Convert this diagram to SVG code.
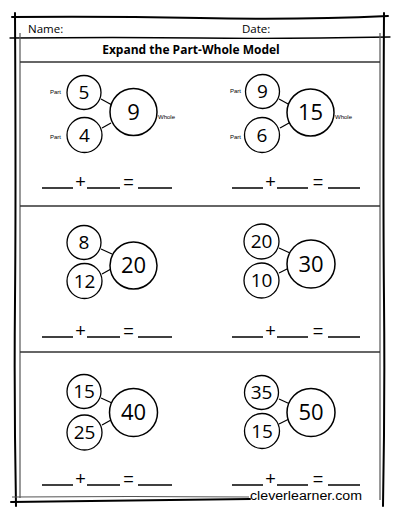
<svg xmlns="http://www.w3.org/2000/svg" width="400" height="518" viewBox="0 0 400 518">
<style>
.frame{fill:none;stroke:#000;stroke-width:2;stroke-linecap:round}
.inner{fill:none;stroke:#555;stroke-width:1.2}
.div{fill:none;stroke:#333;stroke-width:1.6}
.part{fill:#fff;stroke:#000;stroke-width:1.3}
.whole{fill:#fff;stroke:#000;stroke-width:1.5}
.num{font-family:"Open Sans","Liberation Sans",sans-serif;font-weight:normal;fill:#000;text-anchor:middle}
.pn{font-size:19px}
.wn{font-size:22px}
.lbl{font-family:"Liberation Sans",Arial,sans-serif;font-size:6px;fill:#000}
.hdr{font-family:"Open Sans","Liberation Sans",sans-serif;font-size:11.5px;fill:#000}
.ttl{font-family:"Open Sans","Liberation Sans",sans-serif;font-size:12px;font-weight:bold;fill:#000;text-anchor:middle}
.blank{stroke:#000;stroke-width:1.5}
.op{font-family:"Liberation Sans",Arial,sans-serif;font-size:18px;fill:#000;text-anchor:middle}
.conn line{stroke:#000;stroke-width:1.2}
</style>

<g id="frame">
  <path class="frame" d="M12 17 Q100 16 200 18 T388 16"/>
  <path class="frame" d="M15 13 Q16 200 15 300 T16 506"/>
  <path class="frame" d="M384 13 Q383 200 384 300 T383 506"/>
  <path class="frame" d="M10 38 Q120 37 200 38 T390 37" style="stroke-width:1.3"/>
  <path class="inner" d="M20 33 Q21 250 20 498"/>
  <path class="inner" d="M380 33 Q379 250 380 500"/>
  <path class="div" d="M20 62 L380 62"/>
  <path class="div" d="M20 206 L380 206"/>
  <path class="div" d="M20 352 L380 352"/>
  <path class="inner" d="M12 497 Q130 496 249 497"/>
  <path class="frame" d="M11 502 Q130 500 250 499"/>
</g>

<g id="header">
  <text class="hdr" x="28" y="33">Name:</text>
  <text class="hdr" x="242" y="33">Date:</text>
  <text class="ttl" x="191" y="54">Expand the Part-Whole Model</text>
</g>

<g id="connectors" class="conn">
  <line x1="101" y1="99" x2="112" y2="105"/>
  <line x1="102" y1="128" x2="111" y2="123"/>
  <line x1="279" y1="99" x2="290" y2="105"/>
  <line x1="280" y1="128" x2="289" y2="123"/>
  <line x1="101" y1="249" x2="112" y2="254"/>
  <line x1="102" y1="274" x2="111" y2="269"/>
  <line x1="279" y1="248" x2="290" y2="253"/>
  <line x1="279" y1="273" x2="289" y2="268"/>
  <line x1="101" y1="398" x2="112" y2="403"/>
  <line x1="102" y1="425" x2="111" y2="420"/>
  <line x1="279" y1="399" x2="290" y2="404"/>
  <line x1="279" y1="424" x2="289" y2="419"/>
</g>

<g id="m1">
  <g id="m1-part1"><circle class="part" cx="84" cy="92.5" r="17"/><text class="num pn" x="84" y="99.3">5</text></g>
  <g id="m1-part2"><circle class="part" cx="84.5" cy="135" r="17.5"/><text class="num pn" x="84.5" y="141.8">4</text></g>
  <g id="m1-whole"><circle class="whole" cx="133.5" cy="112" r="23.5"/><text class="num wn" x="133.5" y="119.8">9</text></g>
  <text class="lbl" x="61" y="94" text-anchor="end">Part</text>
  <text class="lbl" x="61" y="139" text-anchor="end">Part</text>
  <text class="lbl" x="158" y="119">Whole</text>
</g>

<g id="m2">
  <g id="m2-part1"><circle class="part" cx="262.5" cy="91.5" r="17"/><text class="num pn" x="262.5" y="98.3">9</text></g>
  <g id="m2-part2"><circle class="part" cx="262" cy="135" r="17.5"/><text class="num pn" x="262" y="141.8">6</text></g>
  <g id="m2-whole"><circle class="whole" cx="310.5" cy="112.5" r="23.5"/><text class="num wn" x="310.5" y="120.3">15</text></g>
  <text class="lbl" x="241" y="93" text-anchor="end">Part</text>
  <text class="lbl" x="241" y="139" text-anchor="end">Part</text>
  <text class="lbl" x="335" y="119">Whole</text>
</g>

<g id="m3">
  <g id="m3-part1"><circle class="part" cx="84" cy="242.5" r="17"/><text class="num pn" x="84" y="249.3">8</text></g>
  <g id="m3-part2"><circle class="part" cx="84.5" cy="281" r="17.5"/><text class="num pn" x="84.5" y="287.8">12</text></g>
  <g id="m3-whole"><circle class="whole" cx="133.5" cy="265.5" r="23.5"/><text class="num wn" x="133.5" y="273.3">20</text></g>
</g>

<g id="m4">
  <g id="m4-part1"><circle class="part" cx="261.5" cy="241.5" r="17.5"/><text class="num pn" x="261.5" y="248.3">20</text></g>
  <g id="m4-part2"><circle class="part" cx="261.5" cy="280.5" r="17.5"/><text class="num pn" x="261.5" y="287.3">10</text></g>
  <g id="m4-whole"><circle class="whole" cx="311" cy="264" r="24"/><text class="num wn" x="311" y="271.8">30</text></g>
</g>

<g id="m5">
  <g id="m5-part1"><circle class="part" cx="84" cy="391.5" r="17"/><text class="num pn" x="84" y="398.3">15</text></g>
  <g id="m5-part2"><circle class="part" cx="84.5" cy="432.5" r="17.5"/><text class="num pn" x="84.5" y="439.3">25</text></g>
  <g id="m5-whole"><circle class="whole" cx="133.5" cy="412.5" r="24"/><text class="num wn" x="133.5" y="420.3">40</text></g>
</g>

<g id="m6">
  <g id="m6-part1"><circle class="part" cx="261.5" cy="392.5" r="17"/><text class="num pn" x="261.5" y="399.3">35</text></g>
  <g id="m6-part2"><circle class="part" cx="262" cy="431" r="17.5"/><text class="num pn" x="262" y="437.8">15</text></g>
  <g id="m6-whole"><circle class="whole" cx="311" cy="412.5" r="24"/><text class="num wn" x="311" y="420.3">50</text></g>
</g>

<g id="equations">
  <g id="eq1">
    <line class="blank" x1="42" y1="188" x2="73" y2="188"/><text class="op" x="80.5" y="188">+</text>
    <line class="blank" x1="87" y1="188" x2="120" y2="188"/><text class="op" x="128.5" y="188">=</text>
    <line class="blank" x1="138" y1="188" x2="172" y2="188"/>
  </g>
  <g id="eq2">
    <line class="blank" x1="232" y1="188" x2="263" y2="188"/><text class="op" x="270.5" y="188">+</text>
    <line class="blank" x1="277" y1="188" x2="308" y2="188"/><text class="op" x="318" y="188">=</text>
    <line class="blank" x1="328" y1="188" x2="360" y2="188"/>
  </g>
  <g id="eq3">
    <line class="blank" x1="42" y1="337" x2="73" y2="337"/><text class="op" x="80.5" y="337">+</text>
    <line class="blank" x1="87" y1="337" x2="120" y2="337"/><text class="op" x="128.5" y="337">=</text>
    <line class="blank" x1="138" y1="337" x2="172" y2="337"/>
  </g>
  <g id="eq4">
    <line class="blank" x1="232" y1="337" x2="263" y2="337"/><text class="op" x="270.5" y="337">+</text>
    <line class="blank" x1="277" y1="337" x2="308" y2="337"/><text class="op" x="318" y="337">=</text>
    <line class="blank" x1="328" y1="337" x2="360" y2="337"/>
  </g>
  <g id="eq5">
    <line class="blank" x1="42" y1="485" x2="73" y2="485"/><text class="op" x="80.5" y="485">+</text>
    <line class="blank" x1="87" y1="485" x2="120" y2="485"/><text class="op" x="128.5" y="485">=</text>
    <line class="blank" x1="138" y1="485" x2="172" y2="485"/>
  </g>
  <g id="eq6">
    <line class="blank" x1="232" y1="485" x2="263" y2="485"/><text class="op" x="270.5" y="485">+</text>
    <line class="blank" x1="277" y1="485" x2="308" y2="485"/><text class="op" x="318" y="485">=</text>
    <line class="blank" x1="328" y1="485" x2="360" y2="485"/>
  </g>
</g>

<text x="250" y="499.5" font-family="'Liberation Sans',Arial,sans-serif" font-size="12" textLength="112" lengthAdjust="spacingAndGlyphs" fill="#000">cleverlearner.com</text>
</svg>
